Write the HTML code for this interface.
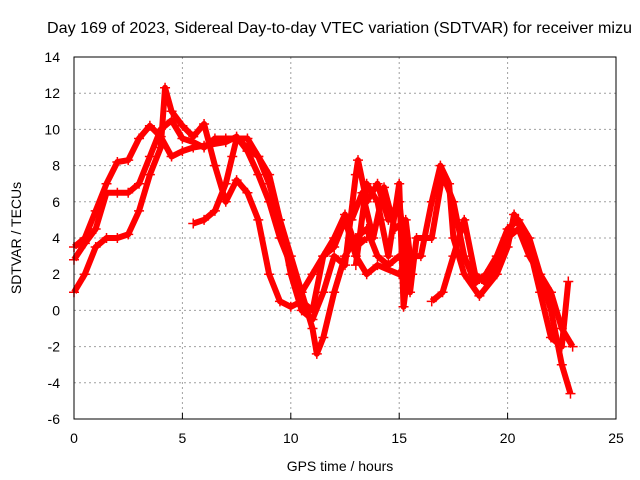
<!DOCTYPE html>
<html><head><meta charset="utf-8"><style>
body{margin:0;background:#fff}
svg{display:block;font-family:"Liberation Sans",sans-serif}
</style></head><body>
<svg id="chart" width="640" height="480">
<text x="47" y="33" font-size="16" textLength="585" lengthAdjust="spacingAndGlyphs">Day 169 of 2023, Sidereal Day-to-day VTEC variation (SDTVAR) for receiver mizu</text>
<text transform="translate(21,238) rotate(-90)" text-anchor="middle" font-size="14">SDTVAR / TECUs</text>
<text x="340" y="471" text-anchor="middle" font-size="14">GPS time / hours</text>
<g id="grid"></g><g id="series"></g><g id="axes"></g>
</svg>
<script>
const xTicks=[0,5,10,15,20,25];
const yTicks=[-6,-4,-2,0,2,4,6,8,10,12,14];
const track1=[[0,3.5],[0.5,4],[1,5.5],[1.5,7],[2,8.2],[2.5,8.3],[3,9.5],[3.5,10.2],[4,9.6],[4.5,8.5],[5,8.8],[5.5,9],[6,9.1],[7,9.3],[7.5,9.6],[8,8.8],[8.5,7.5],[9,6],[9.5,4],[10,2.5],[10.5,1],[11,-1],[11.2,-2.4],[11.5,-1.5],[12,1],[12.5,3],[13,4],[13.5,4.5],[14,3],[14.5,2.5],[15,3],[15.5,2.5]];
const track2=[[0,1],[0.5,2],[1,3.5],[1.5,4],[2,4],[2.5,4.2],[3,5.5],[3.5,7.5],[4,9],[4.2,12.3],[4.5,11],[5,10.2],[5.5,9.6],[6,10.3],[6.5,8],[7,6],[7.5,7.2],[8,6.5],[8.5,5],[9,2],[9.5,0.5],[10,0.2],[10.5,0.5],[11,0],[11.5,3],[12,3.5],[12.5,5],[13,3],[13.5,2],[14,2.5],[15,2],[15.5,3]];
const track3=[[0,2.8],[0.5,3.7],[1,4.5],[1.5,6.5],[2,6.5],[2.5,6.5],[3,7],[3.5,8.5],[4,10],[4.5,10.5],[5,9.5],[5.5,9.3],[6,9],[6.5,9.5],[7,9.5],[7.5,9.5],[8,9],[8.5,8.5],[9,7],[9.5,5],[10,3],[10.5,1],[11,2],[11.5,3],[12,4],[12.5,5.3],[13,3.5],[13.5,4]];
const track4=[[5.5,4.8],[6,5],[6.5,5.5],[7,7],[7.3,8.5],[7.5,9.5],[8,9.5],[8.5,8.5],[9,7.5],[9.5,5],[10,2],[10.5,0],[11,-0.5],[11.5,1],[12,3],[12.5,2.5],[13,7.5],[13.1,8.3],[13.5,6],[14,7],[14.5,5],[15,6],[15.5,1],[15.8,4],[16.5,4],[17,7.5],[17.5,6],[18,3],[18.5,1.5],[19,2],[19.5,3],[20,4.5],[20.5,5],[21,4],[21.5,2],[22,0],[22.5,-3],[22.9,-4.6]];
const track5=[[13,2.5],[13.5,7],[14,6],[14.5,3],[15,7],[15.2,0.2],[15.5,3],[16,3],[16.5,6],[16.9,8],[17.3,7],[17.5,4],[18,2],[18.7,0.8],[19.5,2],[20,3.5],[20.3,5.3],[21,3.5],[21.5,1],[22,-1.5],[22.5,-2],[22.8,1.6]];
const track6=[[16.5,0.5],[17,1],[17.5,3],[18,5],[18.5,2],[19,1.5],[19.5,2.5],[20,4],[20.5,4.5],[21,3],[21.5,2],[22,1],[22.5,-1],[23,-2]];
const track7=[[12.8,5],[13.3,6.5],[13.8,4],[14.3,6.8],[14.8,4.5],[15.3,5],[15.6,2]];
const tracks=[track1,track2,track3,track4,track5,track6,track7];
const X0=74,X1=616,Y0=419,Y1=57;
const sx=v=>X0+(v-0)/(25-0)*(X1-X0);
const sy=v=>Y0-(v+6)/(20)*(Y0-Y1);
const NS='http://www.w3.org/2000/svg';
function mk(t,a,p){const e=document.createElementNS(NS,t);for(const k in a)e.setAttribute(k,a[k]);p.appendChild(e);return e;}
const grid=document.getElementById('grid'),axes=document.getElementById('axes'),ser=document.getElementById('series');
xTicks.forEach(t=>{
 if(t>0&&t<25){const l=mk('line',{x1:sx(t),x2:sx(t),y1:Y1,y2:Y0,stroke:'#a0a0a0','stroke-dasharray':'2,3'},grid);
 
 }
 const tx=mk('text',{x:sx(t),y:Y0+24,'text-anchor':'middle','font-size':14},axes);tx.textContent=t;
 
 
 mk('line',{x1:sx(t),x2:sx(t),y1:Y0,y2:Y0-6,stroke:'#000'},axes);
});
yTicks.forEach(t=>{
 if(t>-6&&t<14){const l=mk('line',{x1:X0,x2:X1,y1:sy(t),y2:sy(t),stroke:'#a0a0a0','stroke-dasharray':'2,3'},grid);
 
 }
 const tx=mk('text',{x:X0-14,y:sy(t)+5,'text-anchor':'end','font-size':14},axes);tx.textContent=t;
 
 
});
const box=mk('rect',{x:X0,y:Y1,width:X1-X0,height:Y0-Y1,fill:'none',stroke:'#000'},axes);


tracks.forEach((tr,i)=>{
 const pl=mk('polyline',{points:tr.map(p=>sx(p[0])+','+sy(p[1])).join(' '),fill:'none',stroke:'#f00','stroke-width':6,'stroke-linejoin':'round'},ser);
 
 
 tr.forEach(p=>{
  const m=mk('path',{d:`M${sx(p[0])-5},${sy(p[1])}h10M${sx(p[0])},${sy(p[1])-5}v10`,stroke:'#f00','stroke-width':1.5},ser);
  
  
 });
});
</script>
</body></html>
